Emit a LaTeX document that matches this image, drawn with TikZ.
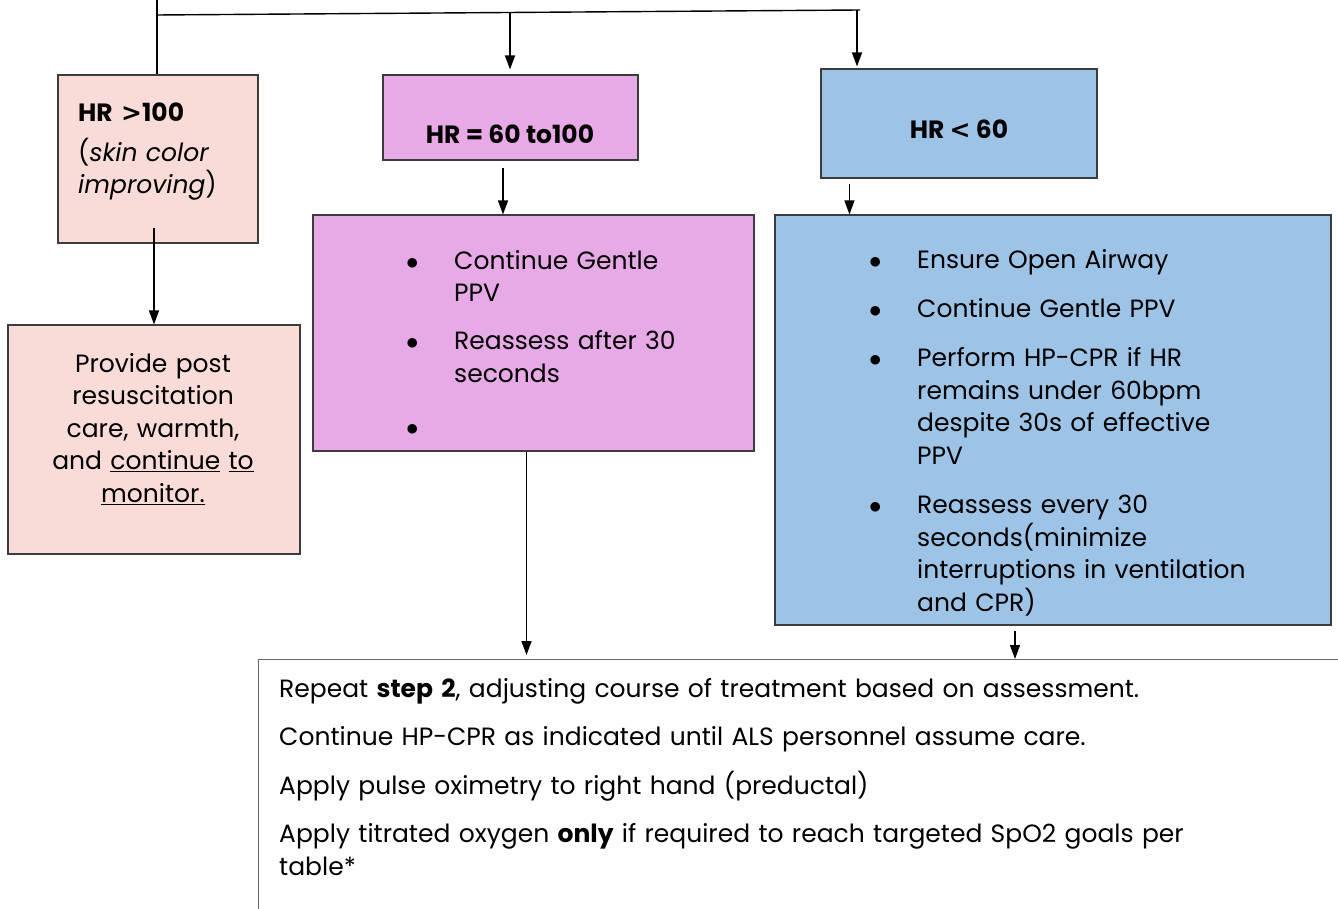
\documentclass[tikz,border=0pt]{standalone}
\usepackage{fontspec}
\setmainfont{Poppins}
\newfontfamily\signfont{DejaVu Sans}
\usepackage{xcolor}
\usetikzlibrary{arrows.meta,positioning,calc}
\definecolor{pinkfill}{HTML}{F9DBD8}
\definecolor{mauvefill}{HTML}{E7AAE6}
\definecolor{bluefill}{HTML}{9DC3E6}
\definecolor{edgegray}{HTML}{3C3C3C}
\newcommand{\bul}[2][260pt]{\noindent\makebox[48pt][l]{$\bullet$}\parbox[t]{#1}{\raggedright #2\strut}\par\prevdepth=\dp\strutbox}
\newcommand{\sign}[1]{{\signfont\bfseries #1}}

\begin{document}
\begin{tikzpicture}[x=1pt,y=-1pt,>={Triangle[length=14pt,width=10pt]},
    box/.style={draw=edgegray,line width=1.1pt,rectangle,inner sep=0pt},
    txt/.style={inner sep=0pt,font=\fontsize{25}{32.5}\selectfont},
    wire/.style={line width=1.4pt},
    arr/.style={wire,->}]
        \useasboundingbox (0,0) rectangle (1338,909);
        \clip (0,0) rectangle (1338,909);
        % boxes
        \node[box,fill=pinkfill,minimum width=200pt,minimum height=168pt] (hrhigh) at (158,159) {};
        \node[box,fill=pinkfill,minimum width=292pt,minimum height=229pt] (post) at (154,439.5) {};
        \node[box,fill=mauvefill,minimum width=255pt,minimum height=85pt] (hrmid) at (510.5,117.5) {};
        \node[box,fill=mauvefill,minimum width=441pt,minimum height=236pt] (midact) at (533.5,333) {};
        \node[box,fill=bluefill,minimum width=276pt,minimum height=109pt] (hrlow) at (959,123.5) {};
        \node[box,fill=bluefill,minimum width=556pt,minimum height=410pt] (lowact) at (1053,420) {};
        \node[box,draw=gray!80!black,fill=white,anchor=north west,minimum width=1142pt,minimum height=341pt] (repeat) at (258,659) {};
        % texts
        \node[txt,anchor=north west,text width=175pt,align=left] (hrhightxt) at (78,103)
          {\textbf{HR \sign{>}100}\\[7pt](\textit{skin color}\\\textit{improving})};
        \node[txt,anchor=north,text width=280pt,align=center] (posttxt) at (153,353)
          {Provide post\\resuscitation\\care, warmth,\\and \underline{continue} \underline{to}\\\underline{monitor.}};
        \node[txt,font=\fontsize{25}{32.5}\selectfont\bfseries] (hrmidtxt) at (510,134) {HR = 60 to100};
        \node[txt,font=\fontsize{25}{32.5}\selectfont\bfseries] (hrlowtxt) at (959,129) {HR \sign{<} 60};
        \node[txt,anchor=north west,text width=320pt,align=left] (midacttxt) at (406,250)
          {\bul{Continue Gentle\\PPV}\vspace{15.5pt}\bul{Reassess after 30\\seconds}\vspace{20.5pt}\bul{\mbox{}}};
        \node[txt,anchor=north west,text width=420pt,align=left] (lowacttxt) at (869,246)
          {\bul[370pt]{Ensure Open Airway}\vspace{16.5pt}\bul[370pt]{Continue Gentle PPV}\vspace{16.5pt}%
           \bul[370pt]{Perform HP-CPR if HR\\remains under 60bpm\\despite 30s of effective\\PPV}\vspace{17pt}%
           \bul[370pt]{Reassess every 30\\seconds(minimize\\interruptions in ventilation\\and CPR)}};
        \node[txt,anchor=north west,text width=1000pt,align=left] (repeattxt) at (279,678)
          {\setlength{\parskip}{16pt}Repeat \textbf{step 2}, adjusting course of treatment based on assessment.\par
           Continue HP-CPR as indicated until ALS personnel assume care.\par
           Apply pulse oximetry to right hand (preductal)\par
           Apply titrated oxygen \textbf{only} if required to reach targeted SpO2 goals per\\table*};
        % top branching line
        \coordinate (top) at (157,0);
        \coordinate (split) at (157,15);
        \coordinate (branchR) at (860,10);
        \coordinate (branchM) at (510,12.5);
        \draw[wire] (top) -- (top |- hrhigh.north);
        \draw[wire] (split) -- (branchR);
        \draw[arr,shorten >=5pt] (branchM) -- (branchM |- hrmid.north);
        \draw[arr,shorten >=2pt] ([xshift=-3pt]branchR) -- ([xshift=-3pt]branchR |- hrlow.north);
        % connectors
        \draw[arr] ([yshift=16pt]hrhigh.south -| post.north) -- (post.north);
        \draw[arr] ([xshift=-7.5pt,yshift=-7pt]hrmid.south) -- ([xshift=-7.5pt]hrmid.south |- midact.north);
        \draw[arr] ([xshift=29pt,yshift=-5pt]hrlow.south west) -- ([xshift=29pt]hrlow.south west |- lowact.north);
        \draw[arr,shorten >=4pt] ([xshift=-7pt]midact.south) -- ([xshift=-7pt]midact.south |- repeat.north);
        \draw[arr] ([xshift=-38pt,yshift=-5pt]lowact.south) -- ([xshift=-38pt]lowact.south |- repeat.north);
      \end{tikzpicture}
\end{document}
